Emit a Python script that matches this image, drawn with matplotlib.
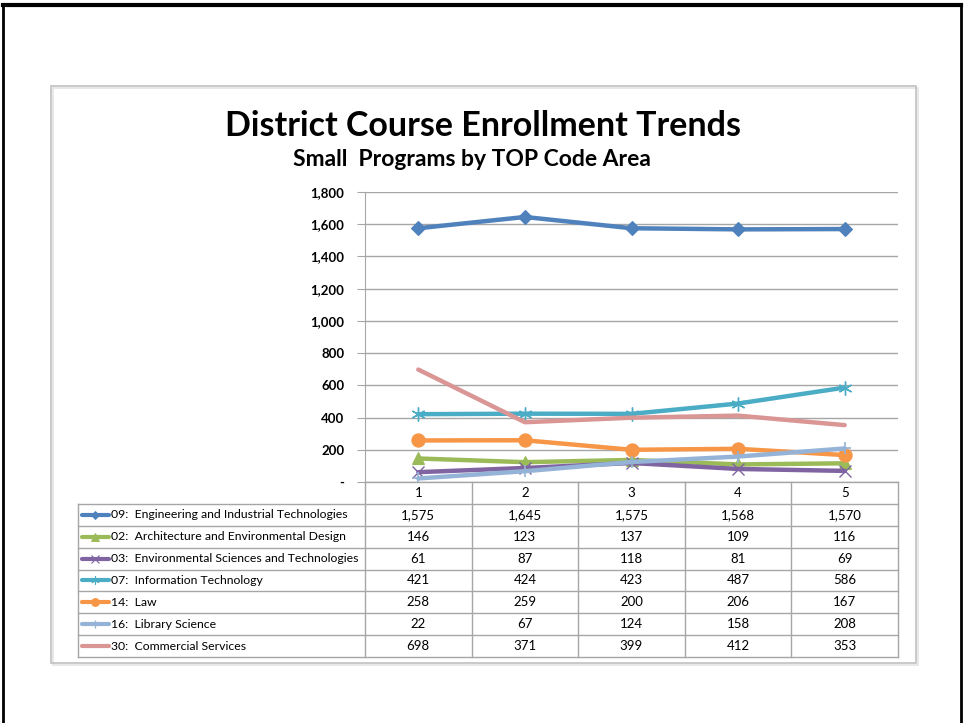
import matplotlib
matplotlib.use("Agg")
import matplotlib.pyplot as plt
from matplotlib.lines import Line2D
from matplotlib.patches import Rectangle

plt.rcParams['font.family'] = ['Lato', 'DejaVu Sans']

categories = [1, 2, 3, 4, 5]
series_names = [
    "09:  Engineering and Industrial Technologies",
    "02:  Architecture and Environmental Design",
    "03:  Environmental Sciences and Technologies",
    "07:  Information Technology",
    "14:  Law",
    "16:  Library Science",
    "30:  Commercial Services",
]
eng = [1575, 1645, 1575, 1568, 1570]
arch = [146, 123, 137, 109, 116]
env = [61, 87, 118, 81, 69]
info = [421, 424, 423, 487, 586]
law = [258, 259, 200, 206, 167]
lib = [22, 67, 124, 158, 208]
comm = [698, 371, 399, 412, 353]
values = [eng, arch, env, info, law, lib, comm]
y_ticks = [0, 200, 400, 600, 800, 1000, 1200, 1400, 1600, 1800]
y_tick_labels = ["-", "200", "400", "600", "800", "1,000", "1,200", "1,400", "1,600", "1,800"]

colors = ["#4F81BD", "#9BBB59", "#8064A2", "#4BACC6", "#F79646", "#95B3D7", "#D99694"]
markers = ["D", "^", "x", (6, 2, 0), "o", "+", None]
msizes = [7.5, 9, 9, 10, 9.5, 9, 0]
mews = [0.8, 0.8, 1.0, 1.0, 0.8, 1.2, 0]

W, H = 965, 723
fig = plt.figure(figsize=(W / 100, H / 100), dpi=100)

def fx(px):
    return px / W

def fy(py):
    return 1 - py / H

# outer slide frame
fig.add_artist(Line2D([fx(3), fx(3)], [fy(5), 0], color="black", lw=2.0))
fig.add_artist(Line2D([fx(961), fx(961)], [fy(5), 0], color="black", lw=2.0))
fig.add_artist(Line2D([fx(3), fx(961)], [fy(5), fy(5)], color="black", lw=3.0))

# chart box with faint shadow
fig.add_artist(Rectangle((fx(53), fy(665)), fx(916) - fx(51), fy(86) - fy(663),
                         fill=False, edgecolor="#E4E4E4", lw=1.2))
fig.add_artist(Rectangle((fx(51), fy(663)), fx(916) - fx(51), fy(86) - fy(663),
                         fill=False, edgecolor="#C0C0C0", lw=1.2))

# titles
fig.text(fx(483), fy(126), "District Course Enrollment Trends", ha="center", va="center",
         fontsize=24.5, fontweight="bold", color="black")
fig.text(fx(472), fy(159), "Small  Programs by TOP Code Area", ha="center", va="center",
         fontsize=16.5, fontweight="bold", color="black")

# plot axes
L, R, T, B = 365, 898, 192, 482
ax = fig.add_axes([fx(L), fy(B), fx(R) - fx(L), fy(T) - fy(B)])
ax.set_xlim(0.5, 5.5)
ax.set_ylim(0, 1800)
ax.set_yticks(y_ticks)
ax.set_yticklabels(y_tick_labels, fontsize=9.5, fontweight="bold")
ax.set_xticks([])
for s in ["top", "right", "bottom"]:
    ax.spines[s].set_visible(False)
ax.spines["left"].set_color("#A6A6A6")
ax.tick_params(axis="y", length=6, color="#A6A6A6", pad=9)
ax.yaxis.grid(True, color="#A6A6A6", lw=1.0)
ax.set_axisbelow(True)

for i, (vals, c, m, ms, mw) in enumerate(zip(values, colors, markers, msizes, mews)):
    if m is None:
        ax.plot(categories, vals, color=c, lw=3.2, solid_capstyle="round", zorder=3 + i)
    else:
        ax.plot(categories, vals, color=c, lw=3.2, marker=m, markersize=ms,
                markerfacecolor=c, markeredgecolor=c, markeredgewidth=mw,
                solid_capstyle="round", zorder=3 + i)

# data table
TL, TB = 78, 657
scale = 5.0 / (R - L)
x_left = 5.5 - (R - TL) * scale
axt = fig.add_axes([fx(TL), fy(TB), fx(R) - fx(TL), fy(B) - fy(TB)])
axt.set_xlim(x_left, 5.5)
nrows = len(series_names) + 1
axt.set_ylim(nrows, 0)
axt.set_autoscale_on(False)
axt.axis("off")
gc = "#A6A6A6"
axt.plot([0.5, 5.5], [0, 0], color=gc, lw=1.0, clip_on=False)
for r in range(1, nrows + 1):
    axt.plot([x_left, 5.5], [r, r], color=gc, lw=1.0, clip_on=False)
for k in range(6):
    xv = 0.5 + k
    axt.plot([xv, xv], [0, nrows], color=gc, lw=1.0, clip_on=False)
axt.plot([x_left, x_left], [1, nrows], color=gc, lw=1.0, clip_on=False)

for j, cat in enumerate(categories):
    axt.text(cat, 0.5, str(cat), ha="center", va="center", fontsize=9.5)

sample_x0 = x_left + 4 * scale
sample_x1 = x_left + 31 * scale
for i, (name, vals, c, m, ms, mw) in enumerate(zip(series_names, values, colors, markers, msizes, mews)):
    yr = i + 1.5
    axt.plot([sample_x0, sample_x1], [yr, yr], color=c, lw=3.0, solid_capstyle="round", clip_on=False)
    if m is not None:
        axt.plot([(sample_x0 + sample_x1) / 2], [yr], marker=m, markersize=ms * 0.6,
                 color=c, markeredgecolor=c, markeredgewidth=mw * 0.8, clip_on=False)
    axt.text(sample_x1 + 2 * scale, yr, name, ha="left", va="center", fontsize=8.8)
    for cat, v in zip(categories, vals):
        axt.text(cat, yr, f"{v:,}", ha="center", va="center", fontsize=9.5)

fig.savefig("out.png", dpi=100, facecolor="white")
